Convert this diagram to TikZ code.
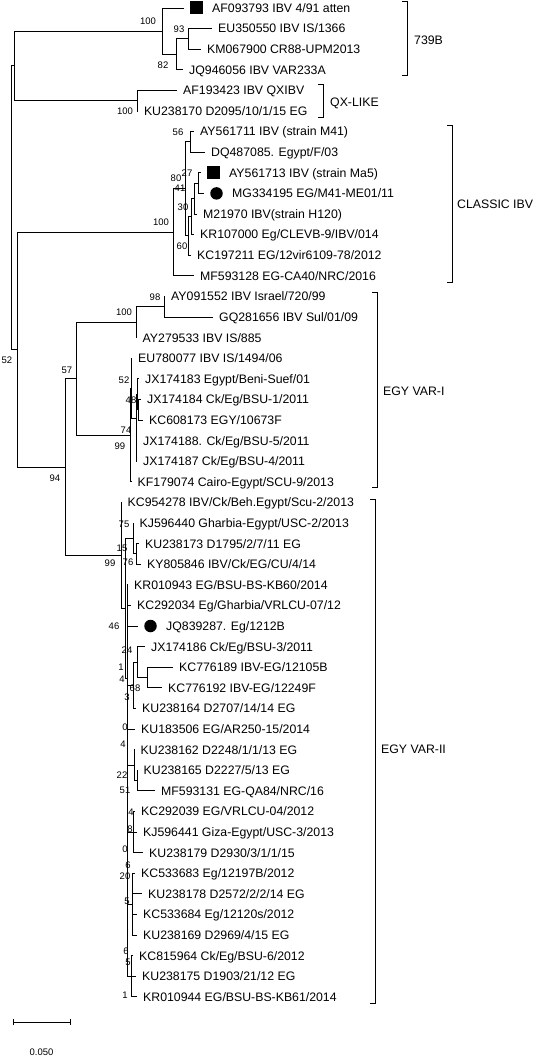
\documentclass[tikz,border=0pt]{standalone}
\usepackage{fontspec}
\setmainfont{Liberation Sans}
\tikzset{
  leaf/.style={anchor=base west, inner sep=0pt, font=\fontsize{12.3}{14}\selectfont},
  bsv/.style={anchor=base, inner sep=0pt, yshift=-3.4pt, font=\fontsize{9.5}{11}\selectfont},
  cladelbl/.style={anchor=base west, inner sep=0pt, font=\fontsize{12.3}{14}\selectfont},
  sqmark/.style={rectangle, fill=black, draw=none, minimum width=13pt, minimum height=13pt, inner sep=0pt},
  cimark/.style={circle, fill=black, draw=none, minimum size=12.5pt, inner sep=0pt},
  edge/.style={line width=0.9pt},
  brk/.style={line width=0.9pt}
}
\newcommand\leafat[4]{\coordinate (t#1) at (#2,#3);
  \node[leaf] (L#1) at ([xshift=6pt,yshift=-4.4pt]t#1) {#4};}
\newcommand\leafmk[5]{\coordinate (t#1) at (#2,#3);
  \node[#4] (M#1) at ([xshift=12.5pt]t#1) {};
  \node[leaf] (L#1) at ([xshift=28pt,yshift=-4.4pt]t#1) {#5};}
\begin{document}
\begin{tikzpicture}[x=1pt,y=-1pt]
\useasboundingbox (0,0) rectangle (536,1059);
% leaves
\leafmk{1}{184}{8}{sqmark}{AF093793 IBV 4/91 atten}
\leafat{2}{212}{28.6}{EU350550 IBV IS/1366}
\leafat{3}{201}{49.2}{KM067900 CR88-UPM2013}
\leafat{4}{183}{69.8}{JQ946056 IBV VAR233A}
\leafat{5}{177}{90.4}{AF193423 IBV QXIBV}
\leafat{6}{137.8}{111}{KU238170 D2095/10/1/15 EG}
\leafat{7}{194}{131.6}{AY561711 IBV (strain M41)}
\leafat{8}{205}{152.2}{DQ487085. Egypt/F/03}
\leafmk{9}{201}{172.8}{sqmark}{AY561713 IBV (strain Ma5)}
\leafmk{10}{204}{193.4}{cimark}{MG334195 EG/M41-ME01/11}
\leafat{11}{197}{214}{M21970 IBV(strain H120)}
\leafat{12}{194}{234.6}{KR107000 Eg/CLEVB-9/IBV/014}
\leafat{13}{191}{255.2}{KC197211 EG/12vir6109-78/2012}
\leafat{14}{194}{275.8}{MF593128 EG-CA40/NRC/2016}
\leafat{15}{165}{296.4}{AY091552 IBV Israel/720/99}
\leafat{16}{213}{317}{GQ281656 IBV Sul/01/09}
\leafat{17}{136.5}{337.6}{AY279533 IBV IS/885}
\leafat{18}{132}{358.2}{EU780077 IBV IS/1494/06}
\leafat{19}{139}{378.8}{JX174183 Egypt/Beni-Suef/01}
\leafat{20}{141}{399.4}{JX174184 Ck/Eg/BSU-1/2011}
\leafat{21}{143}{420}{KC608173 EGY/10673F}
\leafat{22}{137}{440.6}{JX174188. Ck/Eg/BSU-5/2011}
\leafat{23}{137}{461.2}{JX174187 Ck/Eg/BSU-4/2011}
\leafat{24}{131.5}{481.8}{KF179074 Cairo-Egypt/SCU-9/2013}
\leafat{25}{121.5}{502.4}{KC954278 IBV/Ck/Beh.Egypt/Scu-2/2013}
\leafat{26}{133.5}{523}{KJ596440 Gharbia-Egypt/USC-2/2013}
\leafat{27}{139}{543.6}{KU238173 D1795/2/7/11 EG}
\leafat{28}{141}{564.2}{KY805846 IBV/Ck/EG/CU/4/14}
\leafat{29}{128}{584.8}{KR010943 EG/BSU-BS-KB60/2014}
\leafat{30}{131}{605.4}{KC292034 Eg/Gharbia/VRLCU-07/12}
\leafmk{31}{138}{626}{cimark}{JQ839287. Eg/1212B}
\leafat{32}{145}{646.6}{JX174186 Ck/Eg/BSU-3/2011}
\leafat{33}{173}{667.2}{KC776189 IBV-EG/12105B}
\leafat{34}{162}{687.8}{KC776192 IBV-EG/12249F}
\leafat{35}{136}{708.4}{KU238164 D2707/14/14 EG}
\leafat{36}{135}{729}{KU183506 EG/AR250-15/2014}
\leafat{37}{134.5}{749.6}{KU238162 D2248/1/1/13 EG}
\leafat{38}{137.5}{770.2}{KU238165 D2227/5/13 EG}
\leafat{39}{155}{790.8}{MF593131 EG-QA84/NRC/16}
\leafat{40}{135}{811.4}{KC292039 EG/VRLCU-04/2012}
\leafat{41}{137}{832}{KJ596441 Giza-Egypt/USC-3/2013}
\leafat{42}{143}{852.6}{KU238179 D2930/3/1/1/15}
\leafat{43}{135}{873.2}{KC533683 Eg/12197B/2012}
\leafat{44}{142}{893.8}{KU238178 D2572/2/2/14 EG}
\leafat{45}{137}{914.4}{KC533684 Eg/12120s/2012}
\leafat{46}{137}{935}{KU238169 D2969/4/15 EG}
\leafat{47}{133}{955.6}{KC815964 Ck/Eg/BSU-6/2012}
\leafat{48}{136}{976.2}{KU238175 D1903/21/12 EG}
\leafat{49}{137}{996.8}{KR010944 EG/BSU-BS-KB61/2014}
% internal nodes
\coordinate (r) at (11,207.8);
\coordinate (A) at (14,65.9);
\coordinate (N739) at (162,31.2);
\coordinate (N82) at (176,54.35);
\coordinate (N93) at (188,38.9);
\coordinate (QX) at (137,100.7);
\coordinate (B) at (17,349.7);
\coordinate (Cl) at (173,232.3);
\coordinate (N80) at (185,188.9);
\coordinate (N56) at (190,141.9);
\coordinate (N60) at (188,235.9);
\coordinate (N30) at (191,216.6);
\coordinate (N41) at (194,198.5);
\coordinate (N27) at (198,183.1);
\coordinate (N94) at (65,467);
\coordinate (P57) at (76,378.6);
\coordinate (Ni) at (136,322.2);
\coordinate (N98) at (164,306.7);
\coordinate (VI) at (130,435);
\coordinate (Nb) at (131,388.1);
\coordinate (N74) at (136,418);
\coordinate (N52) at (137.5,394.4);
\coordinate (N48) at (138.5,409.7);
\coordinate (V) at (121,555.5);
\coordinate (V2) at (125,608.6);
\coordinate (V3) at (133,538.5);
\coordinate (V5) at (136,553.9);
\coordinate (V4) at (127,678.7);
\coordinate (G1) at (133,685);
\coordinate (G1a) at (137,662.1);
\coordinate (G1b) at (147,677.5);
\coordinate (G3) at (134,765);
\coordinate (G3a) at (137,780.5);
\coordinate (G4) at (133,832);
\coordinate (G5) at (132,904);
\coordinate (G6) at (131,976.2);
% branches
\foreach \p/\c in {r/A, r/B, A/N739, A/QX, N739/t1, N739/N82, N82/N93, N82/t4, N93/t2, N93/t3,
  QX/t5, QX/t6, B/Cl, B/N94, Cl/N80, Cl/t14, N80/N56, N80/N60, N56/t7, N56/t8,
  N60/N30, N60/t13, N30/N41, N30/t12, N41/N27, N41/t11, N27/t9, N27/t10,
  N94/P57, N94/V, P57/Ni, P57/VI, Ni/N98, Ni/t17, N98/t15, N98/t16,
  VI/Nb, VI/t24, Nb/t18, Nb/N74, N74/N52, N74/t22, N74/t23, N52/t19, N52/N48, N48/t20, N48/t21,
  V/t25, V/V2, V2/V3, V2/V4, V3/t26, V3/V5, V5/t27, V5/t28,
  V4/t29, V4/t30, V4/t31, V4/G1, V4/t36, V4/G3, V4/G4, V4/G5, V4/G6,
  G1/G1a, G1/t35, G1a/t32, G1a/G1b, G1b/t33, G1b/t34,
  G3/t37, G3/G3a, G3a/t38, G3a/t39,
  G4/t40, G4/t41, G4/t42,
  G5/t43, G5/t44, G5/t45, G5/t46,
  G6/t47, G6/t48, G6/t49}
  \draw[edge] (\p) |- (\c);
% bootstrap values
\node[bsv] (s1) at (148,21) {100};
\node[bsv] (s2) at (179,29) {93};
\node[bsv] (s3) at (163,65) {82};
\node[bsv] (s4) at (125,111) {100};
\node[bsv] (s5) at (178,132) {56};
\node[bsv] (s6) at (187,173) {27};
\node[bsv] (s7) at (176,178) {80};
\node[bsv] (s8) at (180,188) {41};
\node[bsv] (s9) at (183,207) {30};
\node[bsv] (s10) at (161,222) {100};
\node[bsv] (s11) at (182,246) {60};
\node[bsv] (s12) at (7,360) {52};
\node[bsv] (s13) at (67,370) {57};
\node[bsv] (s14) at (55,478) {94};
\node[bsv] (s15) at (155,297) {98};
\node[bsv] (s16) at (124,312) {100};
\node[bsv] (s17) at (124,380) {52};
\node[bsv] (s18) at (131,400) {48};
\node[bsv] (s19) at (126,430) {74};
\node[bsv] (s20) at (120,446) {99};
\node[bsv] (s21) at (124,524) {75};
\node[bsv] (s22) at (122,548) {15};
\node[bsv] (s23) at (110,563) {99};
\node[bsv] (s24) at (128,562) {76};
\node[bsv] (s25) at (114,626) {46};
\node[bsv] (s26) at (127,650) {24};
\node[bsv] (s27) at (121,667) {1};
\node[bsv] (s28) at (122,679) {4};
\node[bsv] (s29) at (135,688) {68};
\node[bsv] (s30) at (127,697) {3};
\node[bsv] (s31) at (125,727) {0};
\node[bsv] (s32) at (123,744) {4};
\node[bsv] (s33) at (122,775) {22};
\node[bsv] (s34) at (125,790) {51};
\node[bsv] (s35) at (131,812) {4};
\node[bsv] (s36) at (130,829) {8};
\node[bsv] (s37) at (125,849) {0};
\node[bsv] (s38) at (128,865) {6};
\node[bsv] (s39) at (125,876) {20};
\node[bsv] (s40) at (127,901) {5};
\node[bsv] (s41) at (126,951) {6};
\node[bsv] (s42) at (128,962) {5};
\node[bsv] (s43) at (125,995) {1};
% clade brackets
\coordinate (k1t) at (407,1);    \coordinate (k1b) at (407,75);
\coordinate (k2t) at (323,84);   \coordinate (k2b) at (323,117);
\coordinate (k3t) at (452,125);  \coordinate (k3b) at (452,282);
\coordinate (k4t) at (377,292);  \coordinate (k4b) at (377,487);
\coordinate (k5t) at (375,499);  \coordinate (k5b) at (375,1003);
\foreach \k in {k1,k2,k3,k4,k5}
  \draw[brk] ([xshift=-5pt]\k t) -- (\k t) -- (\k b) -- ([xshift=-5pt]\k b);
\node[cladelbl] (c1) at (414,44.4) {739B};
\node[cladelbl] (c2) at (330,106.4) {QX-LIKE};
\node[cladelbl] (c3) at (457,208.4) {CLASSIC IBV};
\node[cladelbl] (c4) at (383,395.4) {EGY VAR-I};
\node[cladelbl] (c5) at (381,753.4) {EGY VAR-II};
% scale bar
\coordinate (sb1) at (13,1022); \coordinate (sb2) at (70,1022);
\draw[edge] (sb1) -- (sb2);
\draw[edge] ([yshift=3pt]sb1) -- ([yshift=-3pt]sb1);
\draw[edge] ([yshift=3pt]sb2) -- ([yshift=-3pt]sb2);
\node[bsv] (sbl) at (41.5,1052) {0.050};
\end{tikzpicture}
\end{document}
